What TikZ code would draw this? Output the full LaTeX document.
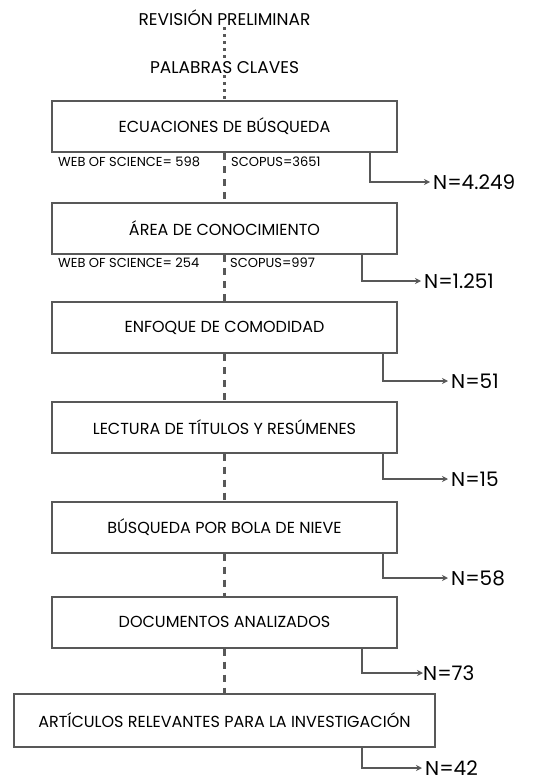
\documentclass[tikz,border=0pt]{standalone}
\usepackage{fontspec}
\setmainfont{Poppins}
\usetikzlibrary{arrows.meta}
\definecolor{gris}{RGB}{88,88,88}
\begin{document}
\begin{tikzpicture}[x=1pt,y=-1pt,
    caja/.style={draw=gris, line width=2pt, minimum width=345pt, minimum height=51pt, inner sep=0pt, font=\fontsize{16}{18}\selectfont},
    etiqueta/.style={inner sep=1pt, text depth=0pt, font=\fontsize{17}{19}\selectfont},
    base/.style={anchor=west, inner sep=0pt, font=\fontsize{13}{15}\selectfont},
    total/.style={anchor=west, inner xsep=3pt, inner ysep=0pt, text height=14pt, text depth=0pt, font=\fontsize{20}{22}\selectfont},
    flecha/.style={draw=gris, line width=2pt, -{Stealth[length=6pt,width=6pt]}},
    guion/.style={draw=gris, line width=2.2pt, dash pattern=on 7pt off 6pt},
    punteado/.style={draw=gris, line width=2.2pt, dash pattern=on 2.5pt off 4.5pt}]
    \useasboundingbox (0,0) rectangle (553,781);

    % entrada
    \node[etiqueta] (rev) at (224.5,18) {REVISIÓN PRELIMINAR};
    \node[etiqueta] (pal) at (224.5,68) {PALABRAS CLAVES};

    % pasos
    \node[caja] (b1) at (224.5,126.5) {ECUACIONES DE BÚSQUEDA};
    \node[caja] (b2) at (224.5,228.5) {ÁREA DE CONOCIMIENTO};
    \node[caja] (b3) at (224.5,327.5) {ENFOQUE DE COMODIDAD};
    \node[caja] (b4) at (224.5,427) {LECTURA DE TÍTULOS Y RESÚMENES};
    \node[caja] (b5) at (224.5,527) {BÚSQUEDA POR BOLA DE NIEVE};
    \node[caja] (b6) at (224.5,622) {DOCUMENTOS ANALIZADOS};
    \node[caja, minimum width=421pt, minimum height=53pt] (b7) at (224.5,720) {ARTÍCULOS RELEVANTES PARA LA INVESTIGACIÓN};

    % bases de datos
    \node[base] (w1) at (58,162) {WEB OF SCIENCE= 598};
    \node[base] (s1) at (231,162) {SCOPUS=3651};
    \node[base] (w2) at (58,263) {WEB OF SCIENCE= 254};
    \node[base] (s2) at (230,263) {SCOPUS=997};

    % resultados
    \node[total] (n1) at (430,182) {N=4.249};
    \node[total] (n2) at (421,281) {N=1.251};
    \node[total] (n3) at (448,381) {N=51};
    \node[total] (n4) at (448,479) {N=15};
    \node[total] (n5) at (448,578) {N=58};
    \node[total, inner xsep=0pt] (n6) at (423,673) {N=73};
    \node[total] (n7) at (422,768) {N=42};

    % lineas centrales
    \draw[punteado] (rev) -- (pal);
    \draw[punteado] (pal) -- (b1);
    \draw[guion] (b1) -- (b2);
    \draw[guion] (b2) -- (b3);
    \draw[guion] (b3) -- (b4);
    \draw[guion] (b4) -- (b5);
    \draw[guion] (b5) -- (b6);
    \draw[guion] (b6) -- (b7);

    % salidas
    \draw[flecha] (b1.south -| 370,0) |- (n1.west);
    \draw[flecha] (b2.south -| 362,0) |- (n2.west);
    \draw[flecha] (b3.south -| 383,0) |- (n3.west);
    \draw[flecha] (b4.south -| 383,0) |- (n4.west);
    \draw[flecha] (b5.south -| 383,0) |- (n5.west);
    \draw[flecha] (b6.south -| 362,0) |- (n6.west);
    \draw[flecha] (b7.south -| 362,0) |- (n7.west);
\end{tikzpicture}
\end{document}
